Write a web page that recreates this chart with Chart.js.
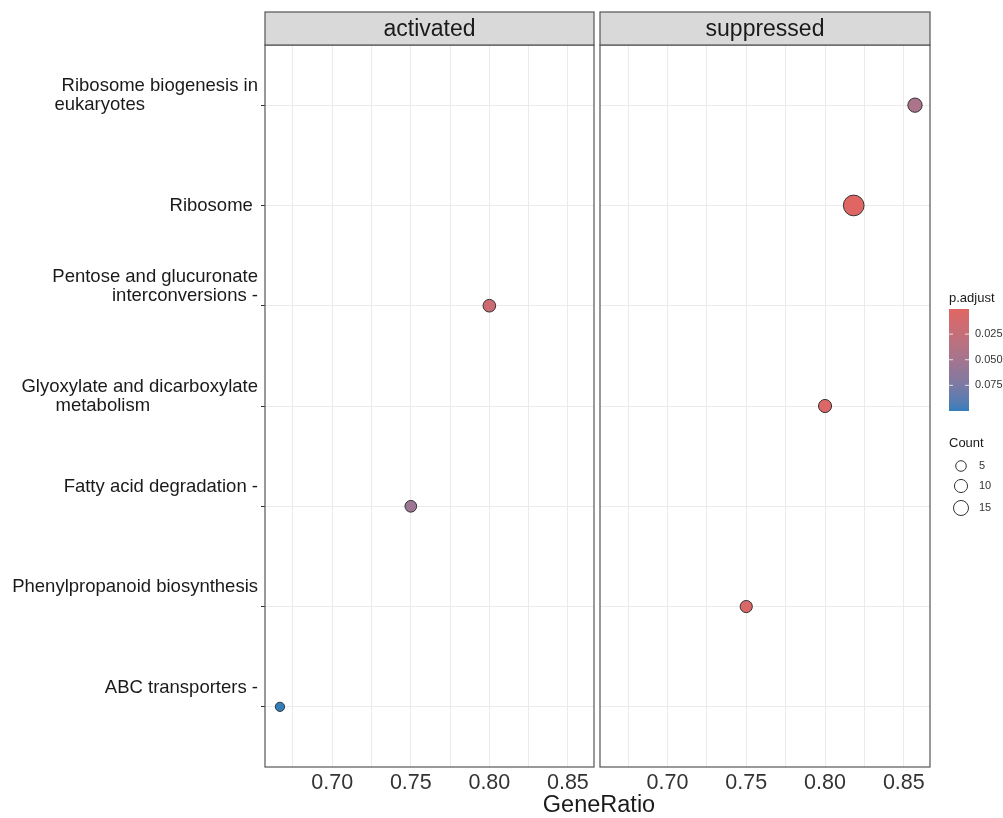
<!DOCTYPE html>
<html>
<head>
<meta charset="utf-8">
<script src="https://cdn.jsdelivr.net/npm/chart.js@4.4.1/dist/chart.umd.min.js"></script>
<style>
  html, body { margin: 0; padding: 0; background: #ffffff; }
  #wrap { position: relative; width: 1003px; height: 818px; }
  .layer { position: absolute; left: 0; top: 0; width: 1003px; height: 818px; }
</style>
</head>
<body>
<div id="wrap">
  <div class="layer"><canvas id="activated"></canvas></div>
  <div class="layer"><canvas id="suppressed"></canvas></div>
</div>
<script>
// Pathway terms, top to bottom
const categories = [
  "Ribosome biogenesis in eukaryotes",
  "Ribosome",
  "Pentose and glucuronate interconversions",
  "Glyoxylate and dicarboxylate metabolism",
  "Fatty acid degradation",
  "Phenylpropanoid biosynthesis",
  "ABC transporters",
];

// Axis labels wrapped the way the figure shows them
const yTickLabels = [
  ["Ribosome biogenesis in", "eukaryotes".padEnd(32), ""],
  ["Ribosome "],
  ["Pentose and glucuronate", "interconversions -", "", ""],
  ["Glyoxylate and dicarboxylate", "metabolism".padEnd(31), ""],
  ["Fatty acid degradation -", "", ""],
  ["Phenylpropanoid biosynthesis", "", ""],
  ["ABC transporters -", "", ""],
];

const xTickLabels = ["0.70", "0.75", "0.80", "0.85"];

// activated facet
const activatedTerms = ["Pentose and glucuronate interconversions", "Fatty acid degradation", "ABC transporters"];
const activatedRatio = [0.8, 0.75, 0.6667];
const activatedCount = [9, 7, 3];
const activatedPadj = [0.018, 0.055, 0.1];

// suppressed facet
const suppressedTerms = [
  "Ribosome biogenesis in eukaryotes",
  "Ribosome",
  "Glyoxylate and dicarboxylate metabolism",
  "Phenylpropanoid biosynthesis",
];
const suppressedRatio = [0.8571, 0.8182, 0.8, 0.75];
const suppressedCount = [13, 36, 10, 8];
const suppressedPadj = [0.045, 0.0005, 0.004, 0.006];

const countBreaks = [5, 10, 15];
const padjBreaks = [0.025, 0.05, 0.075];

const FONT = "'Liberation Sans', Arial, sans-serif";
Chart.defaults.font.family = FONT;

// shared x range with 5% expansion, like ggplot
const allRatio = activatedRatio.concat(suppressedRatio);
const rMin = Math.min(...allRatio), rMax = Math.max(...allRatio);
const xMin = rMin - (rMax - rMin) * 0.05;
const xMax = rMax + (rMax - rMin) * 0.05;

const allPadj = activatedPadj.concat(suppressedPadj);
const pMin = Math.min(...allPadj), pMax = Math.max(...allPadj);

// size scale (area)
function sizeFor(count) {
  return 2.3 + 1.344 * Math.sqrt(count);
}

// colour scale, interpolated in CIELAB
const LOW = "#e06663", HIGH = "#327eba";

function hexToRgb(h) {
  return [1, 3, 5].map((i) => parseInt(h.substr(i, 2), 16));
}
function rgbToLab(rgb) {
  const [r, g, b] = rgb.map((c) => {
    c /= 255;
    return c <= 0.04045 ? c / 12.92 : Math.pow((c + 0.055) / 1.055, 2.4);
  });
  const X = (0.4124 * r + 0.3576 * g + 0.1805 * b) / 0.95047;
  const Y = 0.2126 * r + 0.7152 * g + 0.0722 * b;
  const Z = (0.0193 * r + 0.1192 * g + 0.9505 * b) / 1.08883;
  const f = (t) => (t > 0.008856 ? Math.cbrt(t) : 7.787 * t + 16 / 116);
  return [116 * f(Y) - 16, 500 * (f(X) - f(Y)), 200 * (f(Y) - f(Z))];
}
function labToRgb(lab) {
  const fy = (lab[0] + 16) / 116, fx = fy + lab[1] / 500, fz = fy - lab[2] / 200;
  const inv = (t) => (t * t * t > 0.008856 ? t * t * t : (t - 16 / 116) / 7.787);
  const X = inv(fx) * 0.95047, Y = inv(fy), Z = inv(fz) * 1.08883;
  const lin = [
    3.2406 * X - 1.5372 * Y - 0.4986 * Z,
    -0.9689 * X + 1.8758 * Y + 0.0415 * Z,
    0.0557 * X - 0.204 * Y + 1.057 * Z,
  ];
  return lin.map((c) => {
    c = c <= 0.0031308 ? 12.92 * c : 1.055 * Math.pow(c, 1 / 2.4) - 0.055;
    return Math.round(Math.min(1, Math.max(0, c)) * 255);
  });
}
const labLow = rgbToLab(hexToRgb(LOW)), labHigh = rgbToLab(hexToRgb(HIGH));

function fillFor(p) {
  const t = (p - pMin) / (pMax - pMin);
  const lab = labLow.map((v, i) => v + (labHigh[i] - v) * t);
  const [r, g, b] = labToRgb(lab);
  return `rgb(${r},${g},${b})`;
}

// panel border + grey strip with the facet name
const facetPanel = {
  id: "facetPanel",
  afterDraw(chart, args, opts) {
    const { ctx, chartArea: a } = chart;
    const stripTop = 12;
    ctx.save();
    ctx.strokeStyle = "#555555";
    ctx.lineWidth = 1.2;
    ctx.strokeRect(a.left, a.top, a.right - a.left, a.bottom - a.top);
    ctx.fillStyle = "#D9D9D9";
    ctx.fillRect(a.left, stripTop, a.right - a.left, a.top - stripTop);
    ctx.strokeRect(a.left, stripTop, a.right - a.left, a.top - stripTop);
    ctx.fillStyle = "#1a1a1a";
    ctx.font = "23px " + FONT;
    ctx.textAlign = "center";
    ctx.textBaseline = "middle";
    ctx.fillText(opts.strip, (a.left + a.right) / 2, (stripTop + a.top) / 2 + 1);
    ctx.restore();
  },
};

// x title and the two legends (drawn once, on the right panel)
const guides = {
  id: "guides",
  afterDraw(chart) {
    const ctx = chart.ctx;
    ctx.save();
    ctx.fillStyle = "#1a1a1a";
    ctx.textBaseline = "middle";
    ctx.textAlign = "center";
    ctx.font = "23.5px " + FONT;
    ctx.fillText("GeneRatio", 599, 806);

    // p.adjust colourbar
    const bx = 949, bw = 20, by = 309, bh = 102;
    ctx.textAlign = "left";
    ctx.font = "13px " + FONT;
    ctx.fillText("p.adjust", bx, 298);
    for (let i = 0; i < bh; i++) {
      ctx.fillStyle = fillFor(pMin + ((i + 0.5) / bh) * (pMax - pMin));
      ctx.fillRect(bx, by + i, bw, 1);
    }
    ctx.font = "11px " + FONT;
    padjBreaks.forEach((p) => {
      const y = by + ((p - pMin) / (pMax - pMin)) * bh;
      ctx.strokeStyle = "rgba(255,255,255,0.8)";
      ctx.lineWidth = 1;
      ctx.beginPath();
      ctx.moveTo(bx, y); ctx.lineTo(bx + 4, y);
      ctx.moveTo(bx + bw - 4, y); ctx.lineTo(bx + bw, y);
      ctx.stroke();
      ctx.fillStyle = "#333333";
      ctx.fillText(p.toFixed(3), bx + bw + 6, y);
    });

    // Count size key
    ctx.fillStyle = "#1a1a1a";
    ctx.font = "13px " + FONT;
    ctx.fillText("Count", bx, 443);
    const keyY = [466, 486, 508];
    ctx.font = "11px " + FONT;
    countBreaks.forEach((c, i) => {
      ctx.strokeStyle = "#333333";
      ctx.lineWidth = 1;
      ctx.beginPath();
      ctx.arc(961, keyY[i], sizeFor(c), 0, Math.PI * 2);
      ctx.stroke();
      ctx.fillStyle = "#333333";
      ctx.fillText(String(c), 979, keyY[i]);
    });
    ctx.restore();
  },
};

function makePanel(canvasId, strip, terms, ratios, counts, padj, first) {
  return new Chart(document.getElementById(canvasId), {
    type: "scatter",
    data: {
      datasets: [
        {
          data: terms.map((t, i) => ({ x: ratios[i], y: categories.indexOf(t) })),
          backgroundColor: padj.map(fillFor),
          borderColor: "#333333",
          borderWidth: 1,
          pointRadius: counts.map(sizeFor),
          pointHoverRadius: counts.map(sizeFor),
        },
      ],
    },
    options: {
      responsive: true,
      maintainAspectRatio: false,
      animation: false,
      events: [],
      layout: { padding: { top: 45, right: first ? 409 : 73, left: 0, bottom: 0 } },
      plugins: {
        legend: { display: false },
        tooltip: { enabled: false },
        facetPanel: { strip: strip },
      },
      scales: {
        x: {
          type: "linear",
          min: xMin,
          max: xMax,
          border: { display: false },
          grid: { color: "#EBEBEB", lineWidth: 1, drawTicks: false },
          ticks: {
            stepSize: 0.025,
            includeBounds: false,
            autoSkip: false,
            maxRotation: 0,
            padding: 3,
            color: "#333333",
            font: { size: 21.5 },
            callback: (v) => {
              const s = v.toFixed(2);
              return xTickLabels.includes(s) ? s : "";
            },
          },
          afterFit: (s) => {
            s.height = 51;
          },
        },
        y: {
          type: "linear",
          reverse: true,
          min: -0.6,
          max: categories.length - 0.4,
          border: { display: false },
          grid: {
            color: "#EBEBEB",
            lineWidth: 1,
            drawTicks: first,
            tickLength: 4,
            tickColor: "#333333",
            tickWidth: 1,
          },
          ticks: {
            display: first,
            stepSize: 1,
            includeBounds: false,
            autoSkip: false,
            padding: 3,
            color: "#1a1a1a",
            font: { size: 18.5, lineHeight: 1.05 },
            callback: (v) => yTickLabels[v] || "",
          },
          afterFit: (s) => {
            s.width = first ? 265 : 600;
          },
        },
      },
    },
    plugins: first ? [facetPanel] : [facetPanel, guides],
  });
}

makePanel("activated", "activated", activatedTerms, activatedRatio, activatedCount, activatedPadj, true);
makePanel("suppressed", "suppressed", suppressedTerms, suppressedRatio, suppressedCount, suppressedPadj, false);
</script>
</body>
</html>
